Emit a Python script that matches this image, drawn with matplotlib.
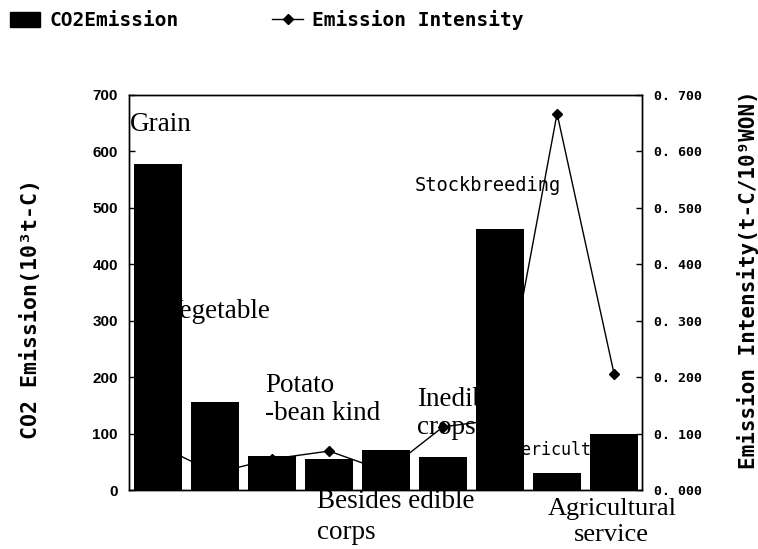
import matplotlib
matplotlib.use("Agg")
import matplotlib.pyplot as plt
from matplotlib.patches import Patch
from matplotlib.lines import Line2D

# ---- data ----
positions = list(range(9))
co2_emission = [577, 156, 60, 55, 71, 58, 463, 30, 99]
emission_intensity = [0.080, 0.030, 0.055, 0.069, 0.033, 0.112, 0.125, 0.667, 0.206]
left_ticks = [0, 100, 200, 300, 400, 500, 600, 700]
right_ticks = [0.0, 0.1, 0.2, 0.3, 0.4, 0.5, 0.6, 0.7]
right_ticklabels = ["0. 000", "0. 100", "0. 200", "0. 300", "0. 400", "0. 500", "0. 600", "0. 700"]
labels = ["Grain", "Vegetable", "Potato\n-bean kind", "Besides edible\ncorps",
          "Inedible\ncrops", "Stockbreeding", "Sericulture", "Agricultural\nservice"]

MONO = "DejaVu Sans Mono"
SERIF = "Liberation Serif"

fig = plt.figure(figsize=(7.58, 5.49), dpi=100)
ax = fig.add_axes([129/758, 1-490/549, (642-129)/758, (490-95)/549])
ax2 = ax.twinx()

# intensity line (drawn below bars)
ax.plot(positions, emission_intensity, color="black", lw=1.0, marker="D",
        markersize=5, zorder=3)
ax.set_ylim(0, 0.7)
ax.set_xlim(-0.51, 8.49)
ax.yaxis.tick_right()
ax.yaxis.set_label_position("right")
ax.set_yticks(right_ticks)
ax.set_yticklabels(right_ticklabels, fontfamily=MONO, fontweight="bold", fontsize=9.5)
ax.set_ylabel("Emission Intensity(t-C/10⁹WON)", fontfamily=MONO, fontweight="bold",
              fontsize=15)
ax.yaxis.set_label_coords(1.186, 0.532)
ax.set_xticks([])

# bars on top
ax2.bar(positions, co2_emission, width=0.85, color="black", zorder=3)
ax2.set_ylim(0, 700)
ax2.yaxis.tick_left()
ax2.yaxis.set_label_position("left")
ax2.set_yticks(left_ticks)
ax2.set_yticklabels([str(v) for v in left_ticks], fontfamily="Liberation Sans",
                    fontweight="bold", fontsize=11)
ax2.set_ylabel("CO2 Emission(10³t-C)", fontfamily=MONO, fontweight="bold",
               fontsize=15.5)
ax2.yaxis.set_label_coords(-0.172, 0.458)
ax2.set_xticks([])

for a in (ax, ax2):
    a.tick_params(axis="y", direction="in", length=4, width=1)
    for s in a.spines.values():
        s.set_linewidth(1.0)
        s.set_color("black")
ax.tick_params(axis="y", pad=9)
ax2.tick_params(axis="y", pad=8)

# category annotations (x in category units, y in intensity units)
serif_kw = dict(fontfamily=SERIF, fontsize=19.5, zorder=1, va="center", ha="left",
                transform=ax.transData)
ax.text(-0.49, 0.647, labels[0], **serif_kw)
ax.text(0.10, 0.317, labels[1], **serif_kw)
ax.text(1.88, 0.160, labels[2], linespacing=1.15, **serif_kw)
ax.text(2.79, -0.048, labels[3], linespacing=1.3, **serif_kw)
ax.text(4.54, 0.135, labels[4], linespacing=1.15, **serif_kw)
ax.text(4.51, 0.539, labels[5], fontfamily=MONO, fontsize=13.5, zorder=1,
        va="center", ha="left")
ax.text(6.21, 0.071, labels[6], fontfamily=MONO, fontsize=12, zorder=1,
        va="center", ha="left")
ax.text(7.96, -0.057, labels[7], fontfamily=SERIF, fontsize=19, va="center",
        ha="center", multialignment="center", linespacing=1.2)

# legend
handles = [Patch(facecolor="black", edgecolor="black"),
           Line2D([], [], color="black", lw=1.0, marker="D", markersize=5)]
fig.legend(handles, ["CO2Emission", "Emission Intensity"], loc="upper left",
           bbox_to_anchor=(10/758, 1-10/549), ncol=2, frameon=False,
           prop=dict(family=MONO, weight="bold", size=14), handlelength=1.55,
           handleheight=0.8, handletextpad=0.5, columnspacing=4.8,
           borderpad=0, borderaxespad=0)

fig.savefig("out.png", dpi=100, facecolor="white")
